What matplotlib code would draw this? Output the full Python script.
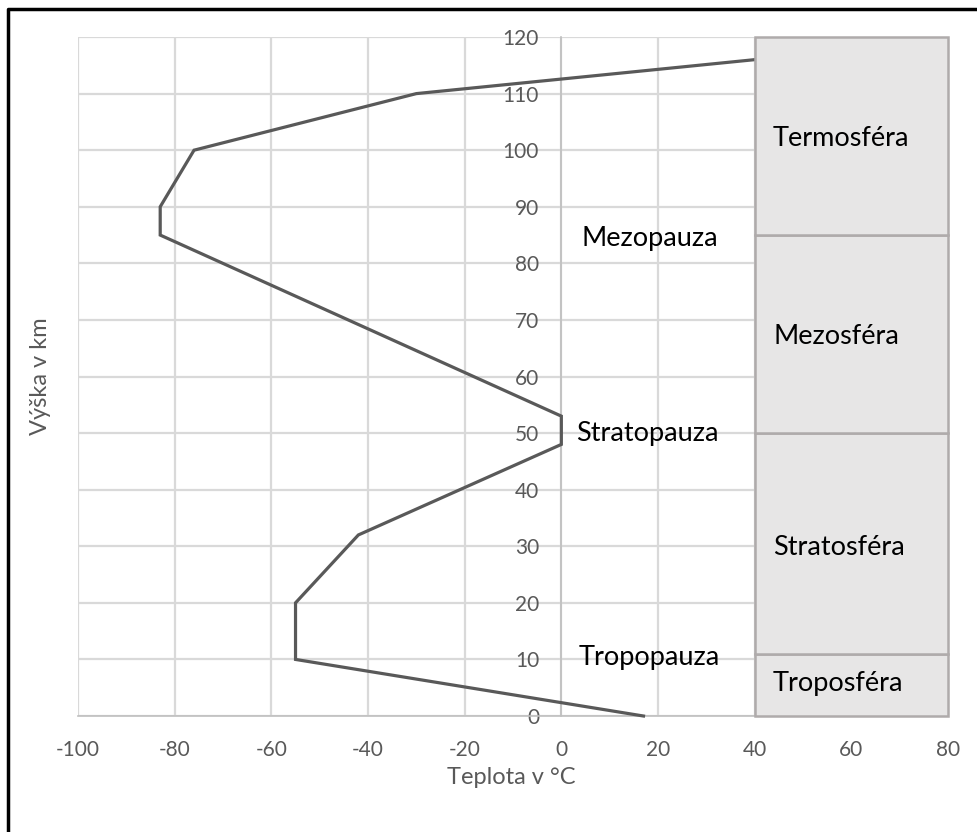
"""Temperature profile of the atmosphere with layer boxes"""
import matplotlib.pyplot as plt
from matplotlib.patches import Rectangle

# Temperature profile (deg C) vs altitude (km)
temp = [17, -55, -55, -42, 0, 0, -83, -83, -76, -30, 40]
height = [0, 10, 20, 32, 48, 53, 85, 90, 100, 110, 116]

# Atmosphere layers drawn as boxes on the right
layer_names = ['Troposféra', 'Stratosféra', 'Mezosféra', 'Termosféra']
layer_bottom = [0, 11, 50, 85]
layer_top = [11, 50, 85, 120]
layer_label_y = [5.7, 29.7, 67, 102]

# Boundary labels (pauses)
pause_names = ['Tropopauza', 'Stratopauza', 'Mezopauza']
pause_x = [3.5, 3.0, 4.2]
pause_y = [10.4, 50, 84.4]

plt.rcParams['font.family'] = ['Lato', 'DejaVu Sans']
plt.rcParams['axes.unicode_minus'] = False

fig = plt.figure(figsize=(9.78, 8.32), dpi=100)
ax = fig.add_axes([0.0798, 0.1394, 0.8895, 0.8161])

grid_c = '#D9D9D9'
tick_c = '#595959'

ax.set_xlim(-100, 80)
ax.set_ylim(0, 120)
ax.set_xticks(range(-100, 81, 20))
ax.set_yticks(range(0, 121, 10))
ax.grid(True, color=grid_c, linewidth=1.6, zorder=0)
ax.set_axisbelow(True)

# Excel-style axes: y axis sits at x = 0
ax.spines['left'].set_position(('data', 0))
ax.spines['left'].set_color('#BFBFBF')
ax.spines['left'].set_linewidth(1.2)
ax.spines['bottom'].set_color('#BFBFBF')
ax.spines['bottom'].set_linewidth(1.2)
ax.spines['top'].set_visible(False)
ax.spines['right'].set_visible(False)
ax.tick_params(axis='both', length=0, labelsize=15, colors=tick_c)
ax.tick_params(axis='y', pad=16)
ax.tick_params(axis='x', pad=17)

ax.plot(temp, height, color='#595959', linewidth=2.3, zorder=3,
        solid_joinstyle='miter', clip_on=False)

# Layer boxes
for name, lo, hi, ly in zip(layer_names, layer_bottom, layer_top, layer_label_y):
    ax.add_patch(Rectangle((40, lo), 40, hi - lo, facecolor='#E7E6E6',
                           edgecolor='#AFABAB', linewidth=1.8, zorder=4,
                           clip_on=False))
    ax.text(43.8, ly, name, fontsize=19.5, color='black', va='center',
            ha='left', zorder=5)

for name, px, py in zip(pause_names, pause_x, pause_y):
    ax.text(px, py, name, fontsize=19.5, color='black', va='center',
            ha='left', zorder=5)

fig.text(0.523, 0.065, 'Teplota v °C', fontsize=17, color=tick_c,
         ha='center', va='center')
fig.text(0.041, 0.548, 'Výška v km', fontsize=17, color=tick_c,
         ha='center', va='center', rotation=90)

# Black frame around the chart (only left and top are visible)
fig.add_artist(plt.Line2D([0.008, 0.008, 1.0], [0.0, 0.9895, 0.9895],
                          transform=fig.transFigure, color='black',
                          linewidth=2.5))

fig.savefig('out.png', dpi=100)
